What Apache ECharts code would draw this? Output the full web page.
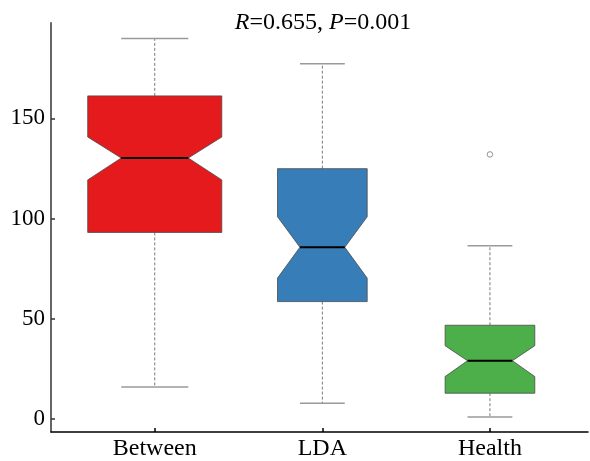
<!DOCTYPE html>
<html>
<head>
<meta charset="utf-8">
<script src="https://cdn.jsdelivr.net/npm/echarts@6/dist/echarts.min.js"></script>
<style>
html,body{margin:0;padding:0;background:#fff;}
#chart{width:590px;height:461px;}
</style>
</head>
<body>
<div id="chart"></div>
<script>
// ---- data ----
var categories = ['Between', 'LDA', 'Health'];
var whiskerLow  = [16.0, 7.9, 1.0];
var q1          = [93.1, 58.6, 12.9];
var notchLow    = [119.3, 70.3, 21.2];
var median      = [130.2, 85.7, 29.1];
var notchHigh   = [140.7, 100.9, 36.6];
var q3          = [161.2, 124.9, 46.8];
var whiskerHigh = [189.8, 177.2, 86.5];
var outliers    = [[2, 132.0]];
var yTicks      = [0, 50, 100, 150];
var titleR = '0.655';
var titleP = '0.001';

// ---- style ----
var colors = ['#E41A1C', '#377EB8', '#4DAF4A'];
var boxWidths = [0.8, 0.535, 0.535]; // in category units
var serif = '"Liberation Serif", "DejaVu Serif", serif';

var boxData = categories.map(function (c, i) {
  return [i, whiskerLow[i], q1[i], notchLow[i], median[i], notchHigh[i], q3[i], whiskerHigh[i]];
});

function renderBox(params, api) {
  var i = api.value(0);
  var hw = boxWidths[i] / 2;
  var nw = hw / 2;
  function P(dx, v) { return api.coord([i + dx, v]); }
  var wl = api.value(1), a = api.value(2), nl = api.value(3), m = api.value(4),
      nh = api.value(5), b = api.value(6), wh = api.value(7);
  var poly = [
    P(-hw, b), P(hw, b), P(hw, nh), P(nw, m), P(hw, nl), P(hw, a),
    P(-hw, a), P(-hw, nl), P(-nw, m), P(-hw, nh)
  ];
  var dash = { stroke: '#7a7a7a', lineWidth: 1, lineDash: [3, 2] };
  var cap = { stroke: '#9a9a9a', lineWidth: 1.5 };
  function line(p1, p2, st) {
    return { type: 'line', shape: { x1: p1[0], y1: p1[1], x2: p2[0], y2: p2[1] }, style: st };
  }
  return {
    type: 'group',
    children: [
      line(P(0, b), P(0, wh), dash),
      line(P(0, a), P(0, wl), dash),
      line(P(-nw, wh), P(nw, wh), cap),
      line(P(-nw, wl), P(nw, wl), cap),
      { type: 'polygon', shape: { points: poly },
        style: { fill: colors[i], stroke: '#4a4a4a', lineWidth: 0.8 } },
      line(P(-nw, m), P(nw, m), { stroke: '#000', lineWidth: 2 })
    ]
  };
}

var chart = echarts.init(document.getElementById('chart'), null, { renderer: 'canvas' });
chart.setOption({
  animation: false,
  backgroundColor: '#fff',
  title: {
    text: '{i|R}{n|=' + titleR + ', }{i|P}{n|=' + titleP + '}',
    left: 318, top: 6, textAlign: 'center',
    textStyle: {
      fontWeight: 'normal',
      rich: {
        i: { fontFamily: serif, fontSize: 24, fontStyle: 'italic', fontWeight: 'normal', color: '#000' },
        n: { fontFamily: serif, fontSize: 24, fontWeight: 'normal', color: '#000' }
      }
    }
  },
  grid: { left: 51, right: 2, top: 22.7, bottom: 27, containLabel: false },
  xAxis: {
    type: 'value',
    min: -0.619, max: 2.585,
    splitLine: { show: false },
    axisLine: { show: true, onZero: false, lineStyle: { color: '#000', width: 1.5 } },
    axisTick: { show: true, inside: true, length: 4, customValues: [0, 1, 2], lineStyle: { color: '#000', width: 1.5 } },
    axisLabel: {
      customValues: [0, 1, 2], margin: 5,
      fontFamily: serif, fontSize: 24, color: '#000',
      formatter: function (v) { return categories[Math.round(v)] || ''; }
    }
  },
  yAxis: {
    type: 'value',
    min: -6.45, max: 197.7,
    splitLine: { show: false },
    axisLine: { show: true, onZero: false, lineStyle: { color: '#333', width: 1.5 } },
    axisTick: { show: true, inside: true, length: 4, customValues: yTicks, lineStyle: { color: '#333', width: 1.5 } },
    axisLabel: {
      customValues: yTicks, margin: 6,
      fontFamily: serif, fontSize: 23, color: '#000'
    }
  },
  series: [
    {
      type: 'custom',
      renderItem: renderBox,
      data: boxData,
      encode: { x: 0, y: [1, 2, 3, 4, 5, 6, 7] },
      clip: false
    },
    {
      type: 'scatter',
      data: outliers,
      symbol: 'circle',
      symbolSize: 5.5,
      itemStyle: { color: '#fff', borderColor: '#777', borderWidth: 1 }
    }
  ]
});
</script>
</body>
</html>
